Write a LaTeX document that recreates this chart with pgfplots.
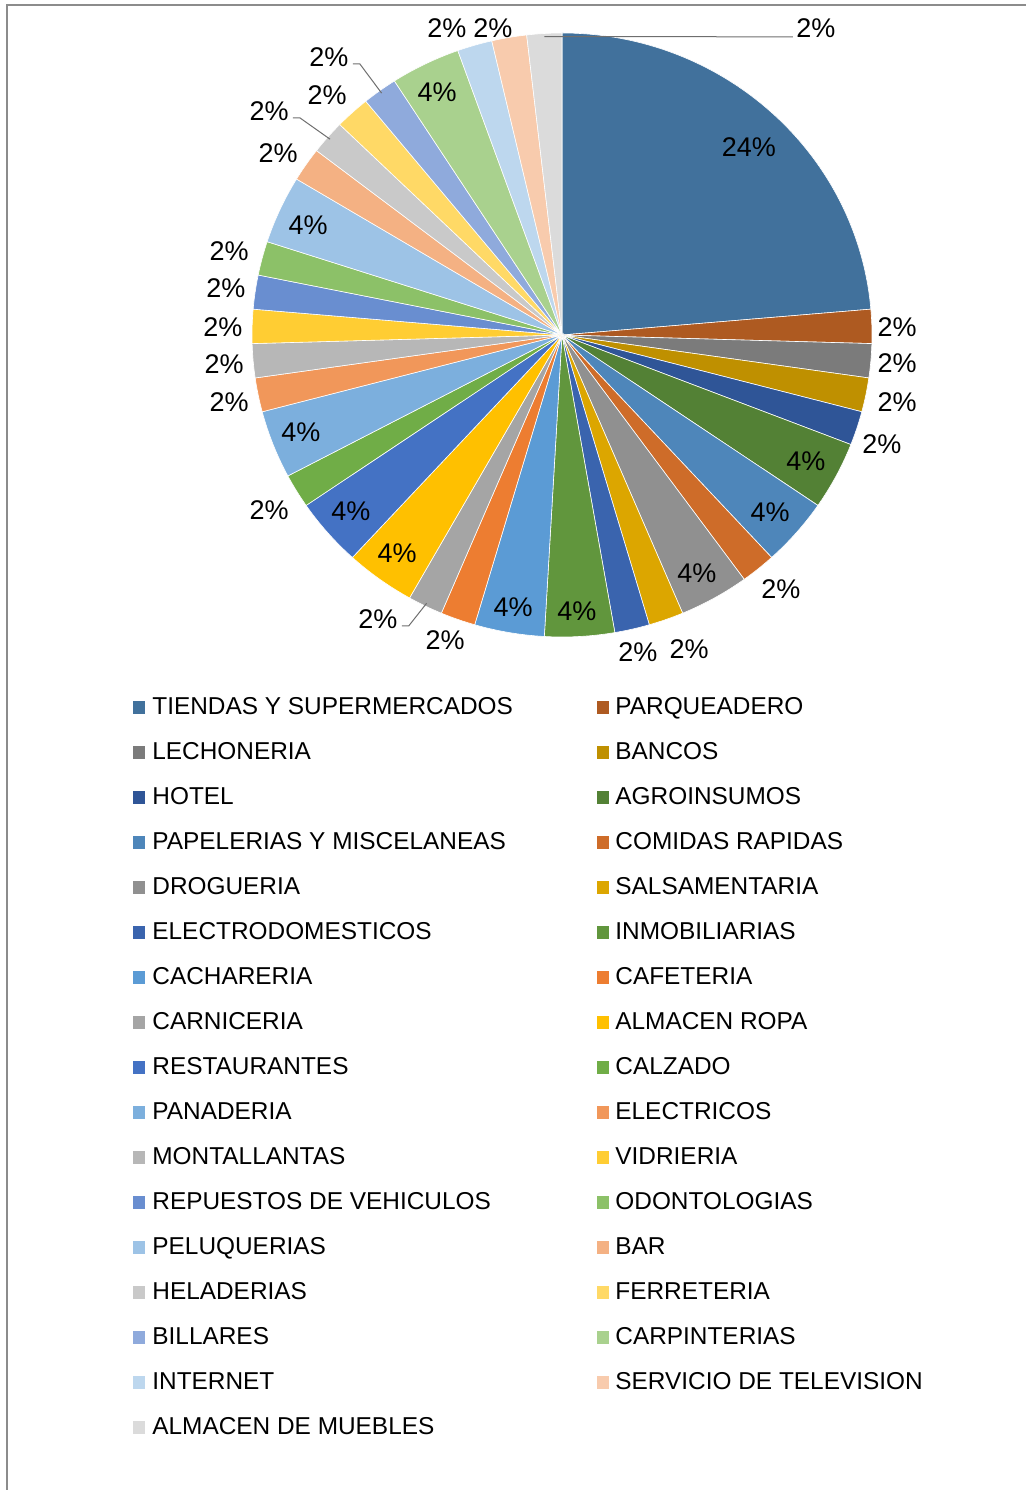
\documentclass[border=0pt]{standalone}
\usepackage{fontspec}
\setmainfont{Liberation Sans}
\usepackage{xcolor}
\usepackage{pgfplots}
\usepackage{pgfplotstable}
\pgfplotsset{compat=1.18}

% slice colours, in series order
\definecolor{s1}{HTML}{41719C}
\definecolor{s2}{HTML}{AE5A21}
\definecolor{s3}{HTML}{7B7B7B}
\definecolor{s4}{HTML}{BF9000}
\definecolor{s5}{HTML}{2F5597}
\definecolor{s6}{HTML}{538135}
\definecolor{s7}{HTML}{4E86BA}
\definecolor{s8}{HTML}{CE6C29}
\definecolor{s9}{HTML}{909090}
\definecolor{s10}{HTML}{DCA600}
\definecolor{s11}{HTML}{3A64AE}
\definecolor{s12}{HTML}{61963D}
\definecolor{s13}{HTML}{5B9BD5}
\definecolor{s14}{HTML}{ED7D31}
\definecolor{s15}{HTML}{A5A5A5}
\definecolor{s16}{HTML}{FFC000}
\definecolor{s17}{HTML}{4472C4}
\definecolor{s18}{HTML}{70AD47}
\definecolor{s19}{HTML}{7CAFDD}
\definecolor{s20}{HTML}{F1975A}
\definecolor{s21}{HTML}{B7B7B7}
\definecolor{s22}{HTML}{FFCD33}
\definecolor{s23}{HTML}{698ED0}
\definecolor{s24}{HTML}{8CC168}
\definecolor{s25}{HTML}{9DC3E6}
\definecolor{s26}{HTML}{F4B183}
\definecolor{s27}{HTML}{C9C9C9}
\definecolor{s28}{HTML}{FFD966}
\definecolor{s29}{HTML}{8FAADC}
\definecolor{s30}{HTML}{A9D18E}
\definecolor{s31}{HTML}{BDD7EE}
\definecolor{s32}{HTML}{F8CBAD}
\definecolor{s33}{HTML}{DBDBDB}
\definecolor{framegray}{HTML}{8C8C8C}
\definecolor{leadgray}{HTML}{6E6E6E}

% count per business type; lx,ly = label position (pie radius = 1); lead = leader line
\pgfplotstableread[col sep=comma]{
name,count,lx,ly,lead
TIENDAS Y SUPERMERCADOS,13,0.603,0.623,0
PARQUEADERO,1,1.081,0.026,0
LECHONERIA,1,1.081,-0.093,0
BANCOS,1,1.081,-0.222,0
HOTEL,1,1.032,-0.361,0
AGROINSUMOS,2,0.787,-0.417,0
PAPELERIAS Y MISCELANEAS,2,0.671,-0.586,0
COMIDAS RAPIDAS,1,0.706,-0.841,0
DROGUERIA,2,0.435,-0.788,0
SALSAMENTARIA,1,0.410,-1.040,0
ELECTRODOMESTICOS,1,0.245,-1.050,0
INMOBILIARIAS,2,0.048,-0.914,0
CACHARERIA,2,-0.158,-0.901,0
CAFETERIA,1,-0.377,-1.010,0
CARNICERIA,1,-0.594,-0.940,1
ALMACEN ROPA,2,-0.532,-0.722,0
RESTAURANTES,2,-0.681,-0.583,0
CALZADO,1,-0.945,-0.579,0
PANADERIA,2,-0.842,-0.321,0
ELECTRICOS,1,-1.074,-0.222,0
MONTALLANTAS,1,-1.090,-0.096,0
VIDRIERIA,1,-1.094,0.026,0
REPUESTOS DE VEHICULOS,1,-1.084,0.156,0
ODONTOLOGIAS,1,-1.074,0.278,0
PELUQUERIAS,2,-0.819,0.364,0
BAR,1,-0.916,0.603,0
HELADERIAS,1,-0.945,0.742,1
FERRETERIA,1,-0.758,0.795,0
BILLARES,1,-0.752,0.921,1
CARPINTERIAS,2,-0.403,0.805,0
INTERNET,1,-0.371,1.017,0
SERVICIO DE TELEVISION,1,-0.223,1.017,0
ALMACEN DE MUEBLES,1,0.819,1.017,2
}\piedata

\newcommand\lblfont{\fontsize{13.5}{15}\selectfont}
\newcommand\legfont{\fontsize{12.2}{14}\selectfont}

\begin{document}
\begin{tikzpicture}
\path[use as bounding box] (0,0) rectangle (513pt,745pt);
% chart area border (top and left edges visible)
\draw[framegray, line width=0.8pt] (3.5pt,0) -- (3.5pt,742.5pt) -- (513pt,742.5pt);

\pgfplotstablegetrowsof{\piedata}
\pgfmathtruncatemacro\lastrow{\pgfplotsretval-1}
\gdef\total{0}
\foreach \i in {0,...,\lastrow}{
  \pgfplotstablegetelem{\i}{count}\of\piedata
  \pgfmathsetmacro\t{\total+\pgfplotsretval}
  \xdef\total{\t}
}

\begin{axis}[
  at={(281pt,577.5pt)}, anchor=center,
  x=155pt, y=151pt,
  xmin=-1, xmax=1, ymin=-1, ymax=1,
  hide axis, clip=false,
]
\pgfplotsextra{
  \gdef\cum{0}
  \foreach \i in {0,...,\lastrow}{
    \pgfplotstablegetelem{\i}{count}\of\piedata \let\cnt\pgfplotsretval
    \pgfplotstablegetelem{\i}{lx}\of\piedata \let\lx\pgfplotsretval
    \pgfplotstablegetelem{\i}{ly}\of\piedata \let\ly\pgfplotsretval
    \pgfplotstablegetelem{\i}{lead}\of\piedata
    \pgfmathtruncatemacro\ld{\pgfplotsretval}
    \pgfmathtruncatemacro\k{\i+1}
    \pgfmathsetmacro\aS{90-360*(\cum/\total)}
    \pgfmathsetmacro\aE{90-360*((\cum+\cnt)/\total)}
    \pgfmathsetmacro\aM{(\aS+\aE)/2}
    \pgfmathsetmacro\ex{0.99*cos(\aM)}
    \pgfmathsetmacro\ey{0.99*sin(\aM)}
    \pgfmathtruncatemacro\pct{round(100*(\cnt/\total))}
    \fill[fill=s\k, draw=white, line width=0.3pt]
      (axis cs:0,0) -- (axis cs:{cos(\aS)},{sin(\aS)})
      arc[start angle=\aS, end angle=\aE, x radius=155pt, y radius=151pt] -- cycle;
    \node[font=\lblfont, inner sep=1pt] (lab) at (axis cs:\lx,\ly) {\pct\%};
    \ifnum\ld=1
      \draw[leadgray, line width=0.5pt] ([shift={(1pt,-3.5pt)}]lab.east)
        -- ([shift={(4.5pt,-3.5pt)}]lab.east) -- (axis cs:\ex,\ey);
    \fi
    \ifnum\ld=2
      \draw[leadgray, line width=0.5pt] (axis cs:\ex,\ey)
        -- ([shift={(-0.5pt,-4.5pt)}]lab.west);
    \fi
    \pgfmathsetmacro\nc{\cum+\cnt}
    \xdef\cum{\nc}
  }
}
\end{axis}

% legend, two columns filled row by row
\foreach \i in {0,...,\lastrow}{
  \pgfmathtruncatemacro\r{floor(\i/2)}
  \pgfmathtruncatemacro\c{mod(\i,2)}
  \pgfmathtruncatemacro\k{\i+1}
  \pgfmathsetmacro\mx{\c==0 ? 66.5 : 298.5}
  \pgfmathsetmacro\tx{\c==0 ? 76 : 307.5}
  \pgfmathsetmacro\yc{0.5*(1490-706-45*\r)}
  \pgfplotstablegetelem{\i}{name}\of\piedata \let\nm\pgfplotsretval
  \fill[fill=s\k] (\mx pt,\yc pt-3.8pt) rectangle ++(6.2pt,6.2pt);
  \node[anchor=base west, inner sep=0pt, font=\legfont] at (\tx pt,\yc pt-4.3pt) {\nm};
}
\end{tikzpicture}
\end{document}
